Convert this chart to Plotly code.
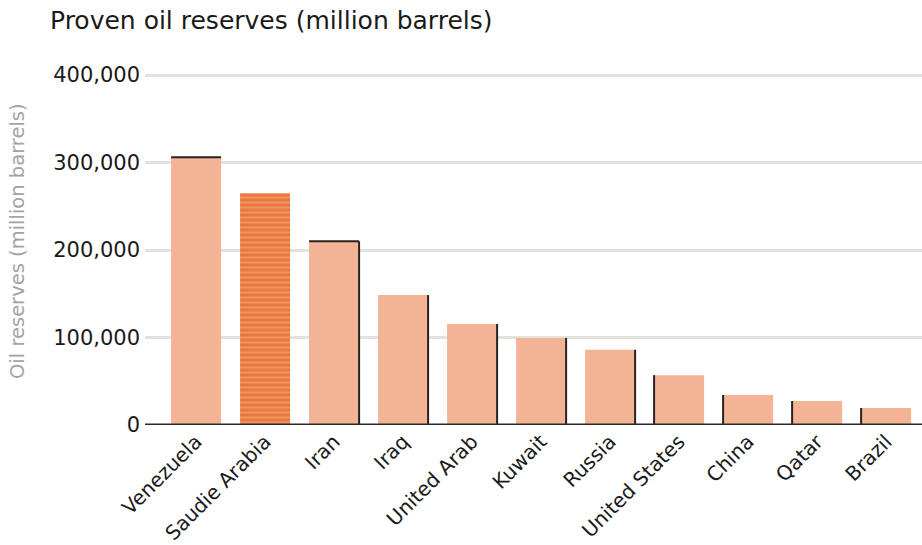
import plotly.graph_objects as go

countries = ["Venezuela", "Saudie Arabia", "Iran", "Iraq", "United Arab", "Kuwait",
             "Russia", "United States", "China", "Qatar", "Brazil"]
reserves = [306000, 265000, 210000, 148500, 115500, 99500, 86000, 57000, 34300, 27400, 19400]
highlight = "Saudie Arabia"

y_ticks = [0, 100000, 200000, 300000, 400000]

# style
FONT = "DejaVu Sans"
LIGHT = "#F2B495"
DARK = "#E8783E"
STRIPE = "#F09660"
EDGE = "#2a2220"
BAR_W = 0.725
edge_sides = [["top"], [], ["top", "right"], ["right"], ["right"], ["right"],
              ["right"], ["left"], ["left"], ["left"], ["left"]]

xs = list(range(len(countries)))
hi_x = [i for i, c in enumerate(countries) if c == highlight]
hi_y = [reserves[i] for i in hi_x]
lo_x = [i for i, c in enumerate(countries) if c != highlight]
lo_y = [reserves[i] for i in lo_x]

fig = go.Figure()
fig.add_trace(go.Bar(
    x=lo_x, y=lo_y, width=BAR_W,
    marker=dict(color=LIGHT, line=dict(width=0)),
    hoverinfo="skip",
))
fig.add_trace(go.Bar(
    x=hi_x, y=hi_y, width=BAR_W,
    marker=dict(color=DARK, line=dict(width=0),
                pattern=dict(shape="-", fgcolor=STRIPE, fgopacity=1, size=5,
                             solidity=0.4, fillmode="overlay")),
    hoverinfo="skip",
))

shapes = []
for i, (v, sides) in enumerate(zip(reserves, edge_sides)):
    x0, x1 = i - BAR_W / 2, i + BAR_W / 2
    for s in sides:
        if s == "top":
            shapes.append(dict(type="line", xref="x", yref="y", x0=x0, x1=x1, y0=v, y1=v,
                               line=dict(color=EDGE, width=2), layer="above"))
        elif s == "right":
            shapes.append(dict(type="line", xref="x", yref="y", x0=x1, x1=x1, y0=0, y1=v,
                               line=dict(color=EDGE, width=2), layer="above"))
        elif s == "left":
            shapes.append(dict(type="line", xref="x", yref="y", x0=x0, x1=x0, y0=0, y1=v,
                               line=dict(color=EDGE, width=2), layer="above"))
# baseline
shapes.append(dict(type="line", xref="paper", yref="y", x0=0, x1=1, y0=0, y1=0,
                   line=dict(color="#2b2b2b", width=3), layer="above"))

fig.update_layout(
    width=922, height=545,
    margin=dict(l=145, r=0, t=65, b=120),
    paper_bgcolor="white", plot_bgcolor="white",
    showlegend=False,
    barmode="overlay",
    font=dict(family=FONT, color="#1a1a1a"),
    title=dict(text="Proven oil reserves (million barrels)", x=50 / 922, xanchor="left",
               xref="container", yref="container", y=1 - 20 / 545, yanchor="middle",
               font=dict(family=FONT, size=25, color="#1a1a1a")),
    shapes=shapes,
    annotations=[dict(text="Oil reserves (million barrels)", textangle=-90,
                      xref="paper", yref="paper", x=-(145 - 17) / 777, y=(425 - 241) / 360,
                      xanchor="center", yanchor="middle", showarrow=False,
                      font=dict(family=FONT, size=19.5, color="#a3a3a3"))],
)
fig.update_xaxes(
    range=[-0.74, 10.52], tickvals=xs, ticktext=countries, tickangle=-45,
    showgrid=False, zeroline=False, showline=False, ticks="",
    tickfont=dict(family=FONT, size=20, color="#1a1a1a"),
)
fig.update_yaxes(
    range=[0, 400000 * 360 / 350], tickvals=y_ticks, tickformat=",d",
    showgrid=True, gridcolor="#E2E3DA", gridwidth=3,
    zeroline=False, showline=False, ticks="", ticklabelstandoff=4,
    tickfont=dict(family=FONT, size=21, color="#1a1a1a"),
)

fig.write_html("out.html")
